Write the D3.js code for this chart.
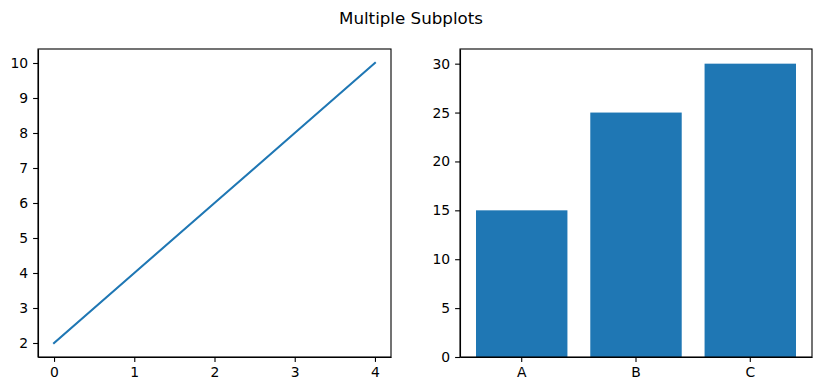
<!DOCTYPE html>
<html>
<head>
<meta charset="utf-8">
<script src="https://cdn.jsdelivr.net/npm/d3@7"></script>
<style>
  body { margin: 0; background: #fff; }
  svg { font-family: "DejaVu Sans", sans-serif; }
  .domain, .tick line { stroke: #000; stroke-width: 1.1; }
</style>
</head>
<body>
<div id="target"></div>
<script>
// left panel: simple line
const lineX = [0, 1, 2, 3, 4];
const lineY = [2, 4, 6, 8, 10];
const lineXTicks = [0, 1, 2, 3, 4];
const lineYTicks = [2, 3, 4, 5, 6, 7, 8, 9, 10];

// right panel: bars
const barCats = ["A", "B", "C"];
const barVals = [15, 25, 30];
const barYTicks = [0, 5, 10, 15, 20, 25, 30];

const width = 822, height = 391;
const blue = "#1f77b4";
const font = "DejaVu Sans, sans-serif";

const svg = d3.select("#target") // create the SVG
  .append("svg")
  .attr("width", width)
  .attr("height", height);

svg.append("rect")
  .attr("width", width)
  .attr("height", height)
  .attr("fill", "#fff");

svg.append("text") // figure title
  .attr("x", 411)
  .attr("y", 24)
  .attr("text-anchor", "middle")
  .attr("font-family", font)
  .attr("font-size", "16.7px")
  .text("Multiple Subplots");

const axTop = 49, axBottom = 357;

// matplotlib-ish axis styling
function styleAxis(g) {
  g.attr("font-family", font).attr("font-size", 13.9);
  g.selectAll(".tick text").attr("fill", "#000");
}

// ---- left axes ----
const ax1 = { left: 38, right: 391 };
const g1 = svg.append("g");

const x1 = d3.scaleLinear() // x scale with 5% margins
  .domain([-0.2, 4.2])
  .range([ax1.left, ax1.right]);

const y1 = d3.scaleLinear()
  .domain([1.6, 10.4])
  .range([axBottom, axTop]);

g1.append("path")
  .datum(lineX.map((d, i) => [d, lineY[i]]))
  .attr("fill", "none")
  .attr("stroke", blue)
  .attr("stroke-width", 2.08)
  .attr("stroke-linecap", "square")
  .attr("d", d3.line().x(d => x1(d[0])).y(d => y1(d[1])));

g1.append("g") // X axis
  .attr("transform", `translate(0,${axBottom})`)
  .call(d3.axisBottom(x1).tickValues(lineXTicks).tickFormat(d3.format("d"))
    .tickSizeOuter(0).tickSizeInner(4.9).tickPadding(4.9))
  .call(styleAxis);

g1.append("g") // Y axis
  .attr("transform", `translate(${ax1.left},0)`)
  .call(d3.axisLeft(y1).tickValues(lineYTicks).tickFormat(d3.format("d"))
    .tickSizeOuter(0).tickSizeInner(4.9).tickPadding(4.9))
  .call(styleAxis);

g1.append("rect") // frame
  .attr("x", ax1.left).attr("y", axTop)
  .attr("width", ax1.right - ax1.left).attr("height", axBottom - axTop)
  .attr("fill", "none").attr("stroke", "#000").attr("stroke-width", 1.1);

// ---- right axes ----
const ax2 = { left: 460, right: 812 };
const g2 = svg.append("g");

const x2 = d3.scaleBand()
  .domain(barCats)
  .range([ax2.left, ax2.right])
  .paddingInner(0.2)
  .paddingOuter(0.14);

const y2 = d3.scaleLinear()
  .domain([0, 31.5])
  .range([axBottom, axTop]);

g2.selectAll("rect.bar") // bars
  .data(barCats)
  .enter()
  .append("rect")
  .attr("class", "bar")
  .attr("x", d => x2(d))
  .attr("y", (d, i) => y2(barVals[i]))
  .attr("width", x2.bandwidth())
  .attr("height", (d, i) => y2(0) - y2(barVals[i]))
  .attr("fill", blue);

g2.append("g") // X axis
  .attr("transform", `translate(0,${axBottom})`)
  .call(d3.axisBottom(x2).tickSizeOuter(0).tickSizeInner(4.9).tickPadding(4.9))
  .call(styleAxis);

g2.append("g") // Y axis
  .attr("transform", `translate(${ax2.left},0)`)
  .call(d3.axisLeft(y2).tickValues(barYTicks).tickFormat(d3.format("d"))
    .tickSizeOuter(0).tickSizeInner(4.9).tickPadding(4.9))
  .call(styleAxis);

g2.append("rect") // frame
  .attr("x", ax2.left).attr("y", axTop)
  .attr("width", ax2.right - ax2.left).attr("height", axBottom - axTop)
  .attr("fill", "none").attr("stroke", "#000").attr("stroke-width", 1.1);
</script>
</body>
</html>
